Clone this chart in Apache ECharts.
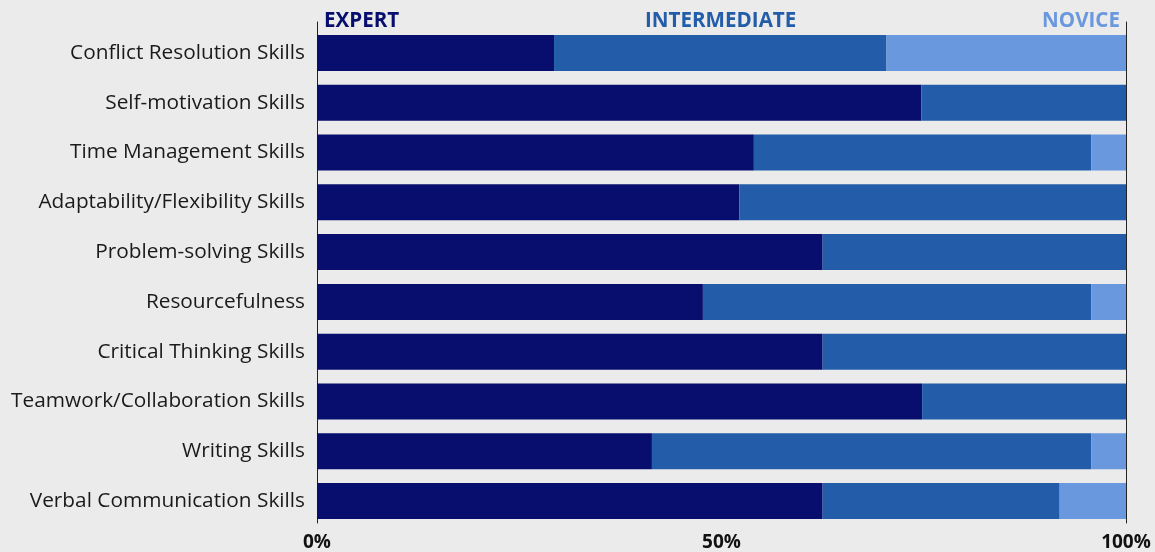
<!DOCTYPE html>
<html>
  <head>
    <meta charset="utf-8" />
    <title>Skills</title>
    <script src="https://cdn.jsdelivr.net/npm/echarts@6/dist/echarts.min.js"></script>
    <style>
      body { margin: 0; background: #ebebeb; }
    </style>
  </head>
  <body>
    <div id="main" style="width: 1155px;height:552px;"></div>
    <script type="text/javascript">
      var skills = [
        'Conflict Resolution Skills',
        'Self-motivation Skills',
        'Time Management Skills',
        'Adaptability/Flexibility Skills',
        'Problem-solving Skills',
        'Resourcefulness',
        'Critical Thinking Skills',
        'Teamwork/Collaboration Skills',
        'Writing Skills',
        'Verbal Communication Skills'
      ];
      var expert       = [29.3, 74.7, 54.0, 52.2, 62.5, 47.7, 62.5, 74.8, 41.4, 62.5];
      var intermediate = [41.1, 25.3, 41.7, 47.8, 37.5, 48.0, 37.5, 25.2, 54.3, 29.3];
      var novice       = [29.6, 0, 4.3, 0, 0, 4.3, 0, 0, 4.3, 8.2];
      var levelNames = ['EXPERT', 'INTERMEDIATE', 'NOVICE'];
      var colors = ['#070e6e', '#235ca8', '#6a98de'];

      var myChart = echarts.init(document.getElementById('main'));

      var font = '"Open Sans", "Noto Sans", sans-serif';
      var frameLine = { show: true, lineStyle: { color: '#222', width: 1 } };

      var option = {
        backgroundColor: '#ebebeb',
        animation: false,
        grid: [
          { left: 317, right: 29, top: 28, bottom: 24 },
          // frame lines, slightly taller than the bars area
          { left: 317, right: 29, top: 22, bottom: 29 }
        ],
        xAxis: [
          {
            type: 'value',
            min: 0,
            max: 100,
            interval: 50,
            splitLine: { show: false },
            axisLine: { show: false },
            axisTick: { show: false },
            axisLabel: {
              formatter: '{value}%',
              color: '#111',
              fontSize: 19,
              fontWeight: 'bold',
              fontFamily: font,
              margin: 7
            }
          },
          { type: 'value', gridIndex: 1, min: 0, max: 100, show: false }
        ],
        yAxis: [
          {
            type: 'category',
            data: skills,
            inverse: true,
            axisLine: { show: false },
            axisTick: { show: false },
            axisLabel: { color: '#1a1a1a', fontSize: 20.8, fontFamily: font, margin: 12 }
          },
          {
            type: 'category', gridIndex: 1, data: skills,
            axisLine: frameLine, axisTick: { show: false }, axisLabel: { show: false }
          },
          {
            type: 'category', gridIndex: 1, data: skills, position: 'right',
            axisLine: frameLine, axisTick: { show: false }, axisLabel: { show: false }
          }
        ],
        series: [expert, intermediate, novice].map(function (d, i) {
          return {
            name: levelNames[i],
            type: 'bar',
            stack: 'total',
            data: d,
            barWidth: 36,
            itemStyle: { color: colors[i] }
          };
        }),
        graphic: [
          {
            type: 'text', left: 324, top: 11,
            style: { text: levelNames[0], fill: colors[0], font: 'bold 20.6px ' + font }
          },
          {
            type: 'text', left: 645, top: 11,
            style: { text: levelNames[1], fill: colors[1], font: 'bold 20.6px ' + font }
          },
          {
            type: 'text', right: 35, top: 11,
            style: { text: levelNames[2], fill: colors[2], font: 'bold 20.6px ' + font }
          }
        ]
      };

      myChart.setOption(option);
    </script>
  </body>
</html>
